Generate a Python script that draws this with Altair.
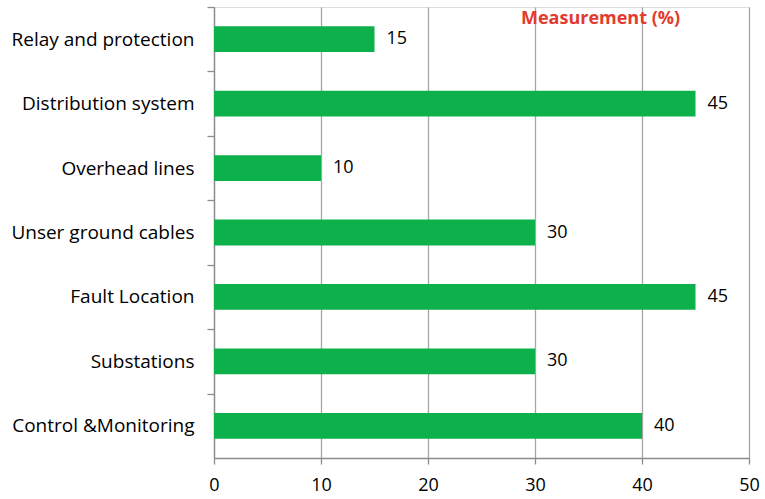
import altair as alt
import pandas as pd

categories = ["Relay and protection", "Distribution system", "Overhead lines",
              "Unser ground cables", "Fault Location", "Substations",
              "Control &Monitoring"]
values = [15, 45, 10, 30, 45, 30, 40]
x_ticks = [0, 10, 20, 30, 40, 50]

df = pd.DataFrame({"cat": categories, "val": values})

FONT = "Open Sans"
GREEN = "#0db14b"
GRID = "#a6a6a6"
STEP = 451 / 7

y_enc = alt.Y("cat:N", sort=categories, title=None,
              scale=alt.Scale(paddingInner=0.6, paddingOuter=0.3),
              axis=alt.Axis(domain=True, domainColor="#8c8c8c", domainWidth=1.3,
                            ticks=True, tickColor="#8c8c8c", tickSize=7, tickWidth=1.3,
                            tickOffset=-STEP / 2, labelOffset=STEP / 2,
                            labelFont=FONT, labelFontSize=19, labelColor="#000000",
                            labelPadding=13, labelLimit=300, grid=False))

x_enc = alt.X("val:Q", title=None,
              scale=alt.Scale(domain=[0, 50], nice=False, zero=True),
              axis=alt.Axis(values=x_ticks, domain=True, domainColor="#8c8c8c", domainWidth=1.3,
                            ticks=True, tickColor="#8c8c8c", tickSize=6, tickWidth=1.3,
                            grid=True, gridColor=GRID, gridWidth=1.3,
                            labelFont=FONT, labelFontSize=18, labelColor="#000000",
                            labelPadding=12, labelFlush=False))

bars = alt.Chart(df).mark_bar(color=GREEN).encode(x=x_enc, y=y_enc)
labels = alt.Chart(df).mark_text(align="left", baseline="middle", dx=12,
                                 font=FONT, fontSize=18, color="#000000").encode(
    x=alt.X("val:Q"), y=alt.Y("cat:N", sort=categories), text=alt.Text("val:Q"))

chart = alt.layer(bars, labels).properties(
    width=535, height=451,
    title=alt.TitleParams("Measurement (%)", font=FONT, fontSize=18, fontWeight="bold",
                          color="#e23b2e", anchor="middle", dx=119, offset=-40,
                          baseline="bottom"),
    autosize=alt.AutoSizeParams(type="none"),
    padding={"left": 214, "top": 7, "right": 16, "bottom": 41},
).configure_view(stroke=None).configure(background="white")

chart.save("out.html", embed_options={"renderer": "svg", "actions": False})
